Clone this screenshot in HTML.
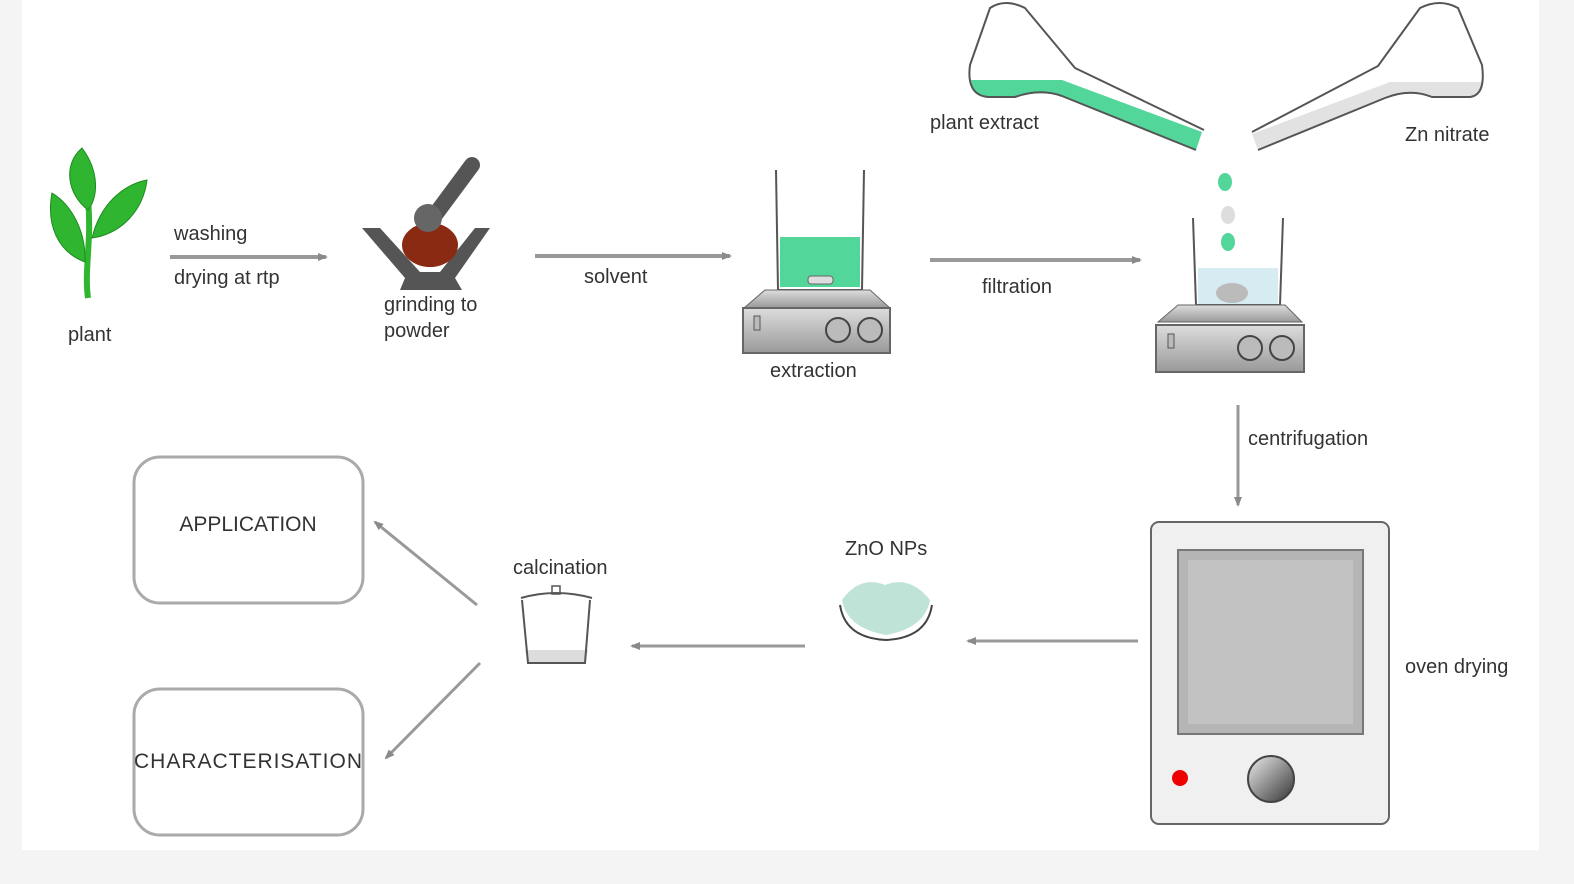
<!DOCTYPE html>
<html><head><meta charset="utf-8"><style>
html,body{margin:0;padding:0;background:#f4f4f4;}
svg{display:block}
text{font-family:"Liberation Sans",sans-serif;fill:#333;font-size:20px;}
</style></head><body>
<svg width="1574" height="884" viewBox="0 0 1574 884" xmlns="http://www.w3.org/2000/svg">
<defs>
<marker id="ah" markerWidth="10" markerHeight="10" refX="8" refY="5" orient="auto" markerUnits="userSpaceOnUse">
<path d="M0,1 L10,5 L0,9 Z" fill="#8a8a8a"/></marker>
<linearGradient id="knob" x1="0" y1="0" x2="1" y2="1"><stop offset="0" stop-color="#eee"/><stop offset="1" stop-color="#333"/></linearGradient>
<linearGradient id="steel" x1="0" y1="0" x2="0" y2="1"><stop offset="0" stop-color="#ddd"/><stop offset="1" stop-color="#999"/></linearGradient>
</defs>
<rect x="22" y="0" width="1517" height="850" fill="#fff"/>

<!-- plant -->
<g fill="#2fb52f" stroke="#1d8c1d" stroke-width="1">
<path d="M88,298 C84,270 92,240 88,200" fill="none" stroke="#2fb52f" stroke-width="6"/>
<path d="M88,210 C68,195 62,165 82,148 C100,172 98,198 88,210Z"/>
<path d="M85,262 C58,252 46,225 52,193 C72,205 86,232 85,262Z"/>
<path d="M92,238 C100,205 122,185 147,180 C143,212 120,234 92,238Z"/>
</g>
<text x="68" y="341">plant</text>

<!-- washing arrow -->
<line x1="170" y1="257" x2="326" y2="257" stroke="#999" stroke-width="4" marker-end="url(#ah)"/>
<text x="174" y="240">washing</text>
<text x="174" y="284">drying at rtp</text>

<!-- mortar -->
<path d="M362,228 L380,228 L420,272 L440,272 L475,228 L490,228 L455,278 L462,290 L400,290 L405,278Z" fill="#555"/>
<ellipse cx="430" cy="245" rx="28" ry="22" fill="#8b2a12"/>
<path d="M472,165 L435,215" stroke="#555" stroke-width="16" stroke-linecap="round"/>
<circle cx="428" cy="218" r="14" fill="#666"/>
<text x="384" y="311">grinding to</text>
<text x="384" y="337">powder</text>

<!-- solvent arrow -->
<line x1="535" y1="256" x2="730" y2="256" stroke="#999" stroke-width="4" marker-end="url(#ah)"/>
<text x="584" y="283">solvent</text>

<!-- extraction beaker + stirrer -->
<rect x="780" y="237" width="80" height="50" fill="#52d69a"/>
<path d="M776,170 L778,290 L862,290 L864,170" fill="none" stroke="#555" stroke-width="2"/>
<rect x="808" y="276" width="25" height="8" rx="3" fill="#ddd" stroke="#666"/>
<path d="M765,290 L870,290 L890,308 L744,308Z" fill="url(#steel)" stroke="#666"/>
<rect x="743" y="308" width="147" height="45" fill="url(#steel)" stroke="#666" stroke-width="2"/>
<rect x="754" y="316" width="6" height="14" fill="#bbb" stroke="#555"/>
<circle cx="838" cy="330" r="12" fill="#bbb" stroke="#444" stroke-width="2"/>
<circle cx="870" cy="330" r="12" fill="#bbb" stroke="#444" stroke-width="2"/>
<text x="770" y="377">extraction</text>

<!-- filtration arrow -->
<line x1="930" y1="260" x2="1140" y2="260" stroke="#999" stroke-width="4" marker-end="url(#ah)"/>
<text x="982" y="293">filtration</text>

<!-- left flask -->
<path d="M971,80 L1062,80 L1202,132 L1196,150 L1062,96 Q1040,90 1015,97 L988,97 Q972,95 971,80Z" fill="#52d69a"/>
<path d="M1204,130 L1075,68 L1025,8 Q1005,-2 990,8 L970,65 Q966,95 988,97 L1015,97 Q1040,88 1062,96 L1196,150" fill="none" stroke="#555" stroke-width="2"/>
<text x="930" y="129">plant extract</text>
<!-- right flask -->
<path d="M1483,82 L1390,82 L1252,134 L1258,150 L1385,98 Q1410,90 1432,97 L1470,97 Q1484,95 1483,82Z" fill="#e2e2e2"/>
<path d="M1252,132 L1378,66 L1420,8 Q1440,-2 1458,8 L1482,65 Q1486,95 1470,97 L1432,97 Q1410,88 1385,98 L1258,150" fill="none" stroke="#555" stroke-width="2"/>
<text x="1405" y="141">Zn nitrate</text>

<!-- drops -->
<ellipse cx="1225" cy="182" rx="7" ry="9" fill="#52d69a"/>
<ellipse cx="1228" cy="215" rx="7" ry="9" fill="#ddd"/>
<ellipse cx="1228" cy="242" rx="7" ry="9" fill="#52d69a"/>

<!-- beaker 2 -->
<rect x="1198" y="268" width="80" height="37" fill="#d6ebf2"/>
<ellipse cx="1232" cy="293" rx="16" ry="10" fill="#bbb"/>
<path d="M1193,218 L1196,305 L1280,305 L1283,218" fill="none" stroke="#555" stroke-width="2"/>
<path d="M1178,305 L1285,305 L1302,322 L1158,322Z" fill="url(#steel)" stroke="#666"/>
<rect x="1156" y="325" width="148" height="47" fill="url(#steel)" stroke="#666" stroke-width="2"/>
<rect x="1168" y="334" width="6" height="14" fill="#bbb" stroke="#555"/>
<circle cx="1250" cy="348" r="12" fill="#bbb" stroke="#444" stroke-width="2"/>
<circle cx="1282" cy="348" r="12" fill="#bbb" stroke="#444" stroke-width="2"/>

<!-- centrifugation -->
<line x1="1238" y1="405" x2="1238" y2="505" stroke="#999" stroke-width="3" marker-end="url(#ah)"/>
<text x="1248" y="445">centrifugation</text>

<!-- oven -->
<rect x="1151" y="522" width="238" height="302" rx="8" fill="#f0f0f0" stroke="#666" stroke-width="2"/>
<rect x="1178" y="550" width="185" height="184" fill="#b5b5b5" stroke="#777" stroke-width="2"/>
<rect x="1188" y="560" width="165" height="164" fill="#c2c2c2"/>
<circle cx="1180" cy="778" r="8" fill="#e00"/>
<circle cx="1271" cy="779" r="23" fill="url(#knob)" stroke="#444" stroke-width="2"/>
<text x="1405" y="673">oven drying</text>

<!-- arrows bottom -->
<line x1="1138" y1="641" x2="968" y2="641" stroke="#999" stroke-width="3" marker-end="url(#ah)"/>
<text x="845" y="555">ZnO NPs</text>
<path d="M842,600 Q860,575 885,585 Q910,575 930,600 Q925,628 886,635 Q847,628 842,600Z" fill="#bfe3d6"/>
<path d="M840,605 Q845,638 886,640 Q927,638 932,605" fill="none" stroke="#444" stroke-width="2"/>
<line x1="805" y1="646" x2="632" y2="646" stroke="#999" stroke-width="3" marker-end="url(#ah)"/>

<!-- crucible -->
<text x="513" y="574">calcination</text>
<rect x="552" y="586" width="8" height="8" fill="none" stroke="#555" stroke-width="1.5"/>
<path d="M521,598 Q556,588 592,598" fill="none" stroke="#555" stroke-width="2"/>
<path d="M525,650 L528,662 L585,662 L588,650Z" fill="#ddd"/>
<path d="M522,600 L528,663 L585,663 L590,600" fill="none" stroke="#555" stroke-width="2"/>

<line x1="477" y1="605" x2="375" y2="522" stroke="#999" stroke-width="3" marker-end="url(#ah)"/>
<line x1="480" y1="663" x2="386" y2="758" stroke="#999" stroke-width="3" marker-end="url(#ah)"/>

<!-- boxes -->
<rect x="134" y="457" width="229" height="146" rx="26" fill="#fff" stroke="#aaa" stroke-width="3"/>
<text x="248" y="531" text-anchor="middle" style="font-size:21px">APPLICATION</text>
<rect x="134" y="689" width="229" height="146" rx="26" fill="#fff" stroke="#aaa" stroke-width="3"/>
<text x="248" y="768" text-anchor="middle" style="font-size:21px" textLength="228">CHARACTERISATION</text>
</svg>
</body></html>
